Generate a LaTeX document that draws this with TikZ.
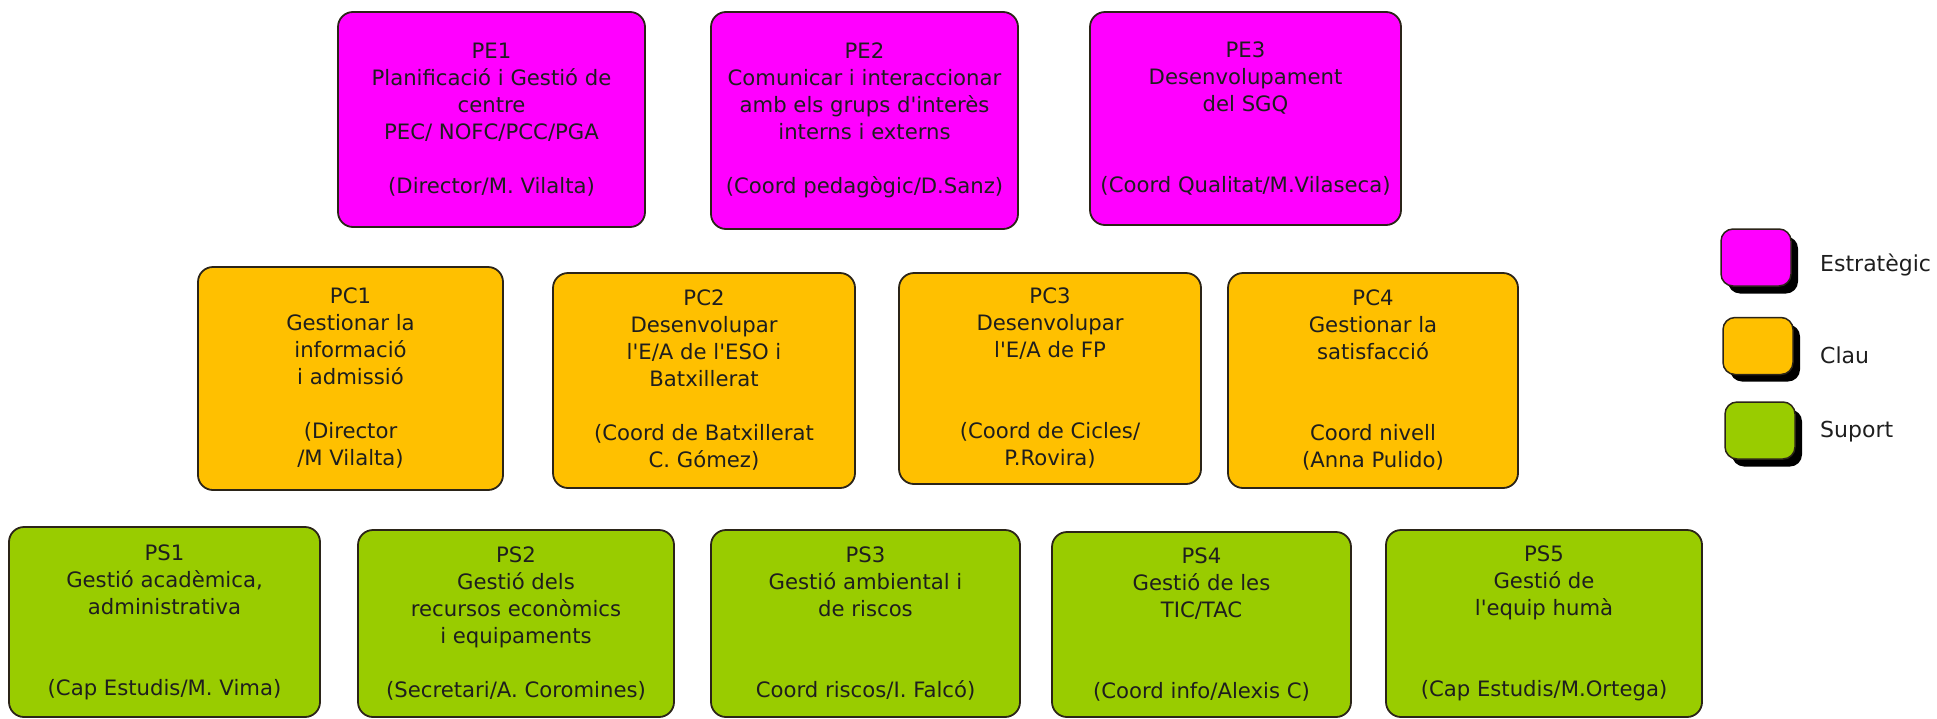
\documentclass[tikz,border=0pt]{standalone}
\usepackage{fontspec}
\setmainfont{DejaVu Sans}
\definecolor{cE}{HTML}{FF00FF}
\definecolor{cC}{HTML}{FFC000}
\definecolor{cS}{HTML}{99CC00}
\definecolor{txt}{HTML}{1E1E1E}
\definecolor{bord}{HTML}{2B2418}
\newcommand{\ap}{\textquotesingle}
\tikzset{
  box/.style={draw=bord, line width=1.8pt, rounded corners=15pt, align=center,
    inner sep=0pt, text=txt, font=\fontsize{21.2}{27}\selectfont},
  pe/.style={box, fill=cE},
  pc/.style={box, fill=cC},
  ps/.style={box, fill=cS},
  leg/.style={draw=bord, line width=1.5pt, rounded corners=12pt, minimum width=70pt,
    minimum height=57pt, inner sep=0pt},
  legshadow/.style={fill=black, rounded corners=12pt, minimum width=70pt,
    minimum height=57pt, inner sep=0pt},
  legtext/.style={anchor=west, text=txt, font=\fontsize{22}{26}\selectfont, inner sep=0pt}
}
\begin{document}
\begin{tikzpicture}[x=1pt,y=-1pt]
\useasboundingbox (0,0) rectangle (1937,718);
% Estrategic
\node[pe, minimum width=307pt, minimum height=215pt] (pe1) at (491.5,119.5)
  {PE1\\Planificació i Gestió de\\centre\\PEC/ NOFC/PCC/PGA\\[27pt](Director/M. Vilalta)};
\node[pe, minimum width=307pt, minimum height=217pt] (pe2) at (864.5,120.5)
  {PE2\\Comunicar i interaccionar\\amb els grups d\ap interès\\interns i externs\\[27pt](Coord pedagògic/D.Sanz)};
\node[pe, minimum width=311pt, minimum height=213pt] (pe3) at (1245.5,118.5)
  {PE3\\Desenvolupament\\del SGQ\\[54pt](Coord Qualitat/M.Vilaseca)};
% Clau
\node[pc, minimum width=305pt, minimum height=223pt] (pc1) at (350.5,378.5)
  {PC1\\Gestionar la\\informació\\i admissió\\[27pt](Director\\/M Vilalta)};
\node[pc, minimum width=302pt, minimum height=215pt] (pc2) at (704,380.5)
  {PC2\\Desenvolupar\\l\ap E/A de l\ap ESO i\\Batxillerat\\[27pt](Coord de Batxillerat\\C. Gómez)};
\node[pc, minimum width=302pt, minimum height=211pt] (pc3) at (1050,378.5)
  {PC3\\Desenvolupar\\l\ap E/A de FP\\[54pt](Coord de Cicles/\\P.Rovira)};
\node[pc, minimum width=290pt, minimum height=215pt] (pc4) at (1373,380.5)
  {PC4\\Gestionar la\\satisfacció\\[54pt]Coord nivell\\(Anna Pulido)};
% Suport
\node[ps, minimum width=311pt, minimum height=190pt] (ps1) at (164.5,622)
  {PS1\\Gestió acadèmica,\\administrativa\\[54pt](Cap Estudis/M. Vima)};
\node[ps, minimum width=316pt, minimum height=187pt] (ps2) at (516,623.5)
  {PS2\\Gestió dels\\recursos econòmics\\i equipaments\\[27pt](Secretari/A. Coromines)};
\node[ps, minimum width=309pt, minimum height=187pt] (ps3) at (865.5,623.5)
  {PS3\\Gestió ambiental i\\de riscos\\[54pt]Coord riscos/I. Falcó)};
\node[ps, minimum width=299pt, minimum height=185pt] (ps4) at (1201.5,624.5)
  {PS4\\Gestió de les\\TIC/TAC\\[54pt](Coord info/Alexis C)};
\node[ps, minimum width=316pt, minimum height=187pt] (ps5) at (1544,623.5)
  {PS5\\Gestió de\\l\ap equip humà\\[54pt](Cap Estudis/M.Ortega)};
% Legend
\node[legshadow] (shE) at (1763,265) {};
\node[leg, fill=cE] (lgE) at (1756,257.5) {};
\node[legtext] (tE) at (1820,265) {Estratègic};
\node[legshadow] (shC) at (1765,353) {};
\node[leg, fill=cC] (lgC) at (1758,346) {};
\node[legtext] (tC) at (1820,355) {Clau};
\node[legshadow] (shS) at (1767,438) {};
\node[leg, fill=cS] (lgS) at (1760,430.5) {};
\node[legtext] (tS) at (1820,432) {Suport};
\end{tikzpicture}
\end{document}
